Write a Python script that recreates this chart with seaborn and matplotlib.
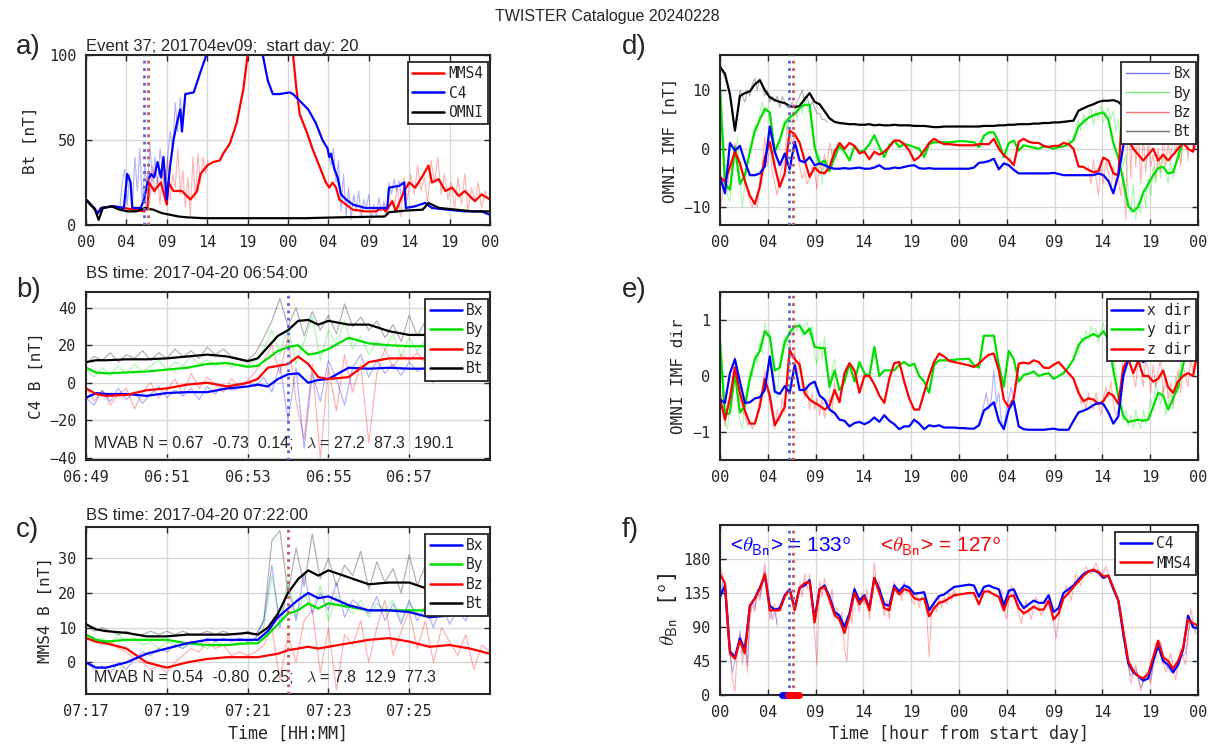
import numpy as np
import matplotlib
matplotlib.use('Agg')
import matplotlib.pyplot as plt
from matplotlib.lines import Line2D
import seaborn as sns

# ---- data ----
HOUR_TICKS = [0, 4.8, 9.6, 14.4, 19.2, 24.0, 28.8, 33.6, 38.4, 43.2, 48.0]
HOUR_LABELS = ['00', '04', '09', '14', '19', '00', '04', '09', '14', '19', '00']
MIN_TICKS = [0, 2, 4, 6, 8]
C4_MIN_LABELS = ['06:49', '06:51', '06:53', '06:55', '06:57']
MMS_MIN_LABELS = ['07:17', '07:19', '07:21', '07:23', '07:25']

BS_C4_H = 6.9      # 06:54 on start day
BS_MMS_H = 7.37    # 07:22 on start day
BS_MIN = 5.0       # minutes after window start
C4_WIN = [6.2, 7.5]
MMS_WIN = [6.8, 7.9]

# panel a: Bt, hours from start day
a_c4_t = [0, 0.6, 1.4, 1.8, 3.3, 4.5, 4.9, 5.3, 5.5, 6.5, 6.9, 7.3, 7.7, 8.1, 8.5,
          8.9, 9.2, 9.6, 10.0, 10.4, 10.8, 11.2, 11.4, 11.8, 12.8, 13.6, 14.3, 15.5,
          20.0, 21.0, 21.6, 22.2, 23.0, 24.2, 24.6, 25.4, 26.4, 27.3, 28.1, 28.7,
          28.9, 29.1, 29.5, 29.9, 30.3, 30.9, 31.7, 33.2, 35.2, 35.8, 36.0, 37.2,
          37.8, 38.0, 39.1, 40.3, 41.1, 43.0, 45.0, 47.0, 48.0]
a_c4 = [15, 12, 7, 10, 11, 10, 30, 25, 10, 10, 15, 25, 30, 28, 37,
        28, 40, 15, 35, 50, 60, 68, 55, 77, 78, 90, 100, 150,
        150, 100, 85, 77, 77, 78, 77, 73, 68, 60, 50, 45,
        40, 42, 33, 28, 18, 15, 12, 10, 10, 10, 22, 23,
        25, 10, 11, 13, 10, 9, 8, 8, 6]
a_mms_t = [0, 1.4, 1.8, 3.3, 5.7, 6.9, 7.3, 7.5, 8.1, 8.9, 9.6, 9.8, 10.4, 11.4, 12.4,
           13.2, 13.6, 14.4, 15.1, 15.9, 16.3, 17.1, 17.9, 18.7, 19.2, 20.0, 24.0,
           24.6, 25.0, 25.4, 26.2, 26.9, 27.7, 28.5, 28.9, 29.3, 29.7, 30.1, 30.9,
           31.7, 33.2, 34.4, 35.2, 35.6, 36.4, 36.8, 37.8, 38.4, 39.1, 39.9, 40.7,
           41.1, 41.9, 42.7, 43.5, 44.3, 45.0, 46.2, 47.0, 48.0]
a_mms = [15, 7, 10, 11, 9, 8, 10, 25, 20, 25, 12, 25, 20, 20, 15,
         20, 30, 35, 37, 38, 42, 48, 60, 80, 100, 150, 150,
         100, 80, 65, 55, 45, 35, 25, 22, 25, 22, 15, 12,
         9, 8, 8, 10, 8, 14, 8, 20, 25, 22, 28, 35,
         25, 27, 20, 22, 17, 20, 14, 18, 15]
a_omni_t = [0, 0.5, 1.0, 1.5, 2.0, 3.0, 4.0, 5.0, 6.0, 7.0, 8.0, 9.0, 10.0, 11.0, 12.0,
            14.0, 20.0, 26.0, 30.0, 35.5, 36.0, 38.0, 40.0, 40.7, 41.5, 42.0, 44.0,
            46.0, 48.0]
a_omni = [15, 12, 10, 3, 10, 11, 9, 8, 8, 10, 9, 7, 6, 5, 4.5,
          4, 4, 4, 4.5, 5, 7.5, 8.5, 9, 13, 11, 10, 9, 8, 8]
# raw (unsmoothed) bursts, regular sampling from a start hour
a_c4_raw1 = [9, 25, 33, 12, 30, 8, 40, 20, 45, 12, 35, 20, 48, 25, 40, 22, 45, 30,
             15, 40, 55, 45, 72, 55, 75, 60, 78]                        # from 4.0 h, 0.3 h
a_c4_raw2 = [42, 35, 45, 25, 38, 8, 30, 5, 22, 3, 18, 8, 20, 4, 15, 10, 18, 3, 12,
             5, 16, 8, 14, 6, 25, 18, 27, 20, 26, 15, 22, 12]            # from 28.8 h, 0.3 h
a_mms_raw1 = [10, 30, 15, 35, 18, 28, 12, 33, 20, 40, 15, 30, 22, 45, 18, 32, 10,
              28, 5, 40, 15, 42, 25, 40, 30, 38]                          # from 7.0 h, 0.3 h
a_mms_raw2 = [8, 12, 6, 15, 10, 22, 5, 28, 15, 30, 18, 35, 20, 28, 12, 38, 25, 40,
              18, 30, 15, 25, 10, 28, 12, 30, 8, 22, 14, 25, 10, 20, 15]  # from 35.0 h, 0.4 h

# panels b, c: minutes after window start
bc_t = [0, 0.25, 0.5, 1, 1.5, 2, 2.5, 3, 3.5, 4, 4.25, 4.5, 4.75, 5, 5.25, 5.5, 5.75,
        6, 6.5, 7, 7.5, 8, 8.5, 9, 9.5, 10]
b_bt = [11, 12, 12, 12.5, 12.5, 13, 14, 15, 14, 11.5, 13, 19, 25, 28, 33, 33.5, 31,
        33, 31, 31, 27.5, 25.5, 25.5, 25.5, 25.5, 32]
b_by = [8, 5.5, 5, 5.5, 6, 7, 8, 10, 10.5, 8.5, 9, 13, 17, 19, 20, 15, 16,
        18, 24, 21, 20, 19.5, 19.5, 19.5, 20, 27]
b_bz = [-3, -6, -7, -6.5, -4, -3, -1, 0, -2, 0, 2, 8, 9, 10, 14, 10, 3,
        2, 3, 11, 13, 13, 13, 13, 13, 16]
b_bx = [-8, -5.5, -6, -6, -7, -5.5, -5, -5, -3, -2, -1, -2, 2, 4.5, 5, 0, 1.5,
        2, 8, 7.5, 8, 7.5, 7.5, 7.5, 8, 10]
c_bt = [11, 9.5, 9, 8.5, 7.5, 7.5, 8, 8, 8, 8.5, 8, 10, 14, 20, 24, 26.5, 25,
        26.5, 24.5, 22.5, 23, 23, 21, 21, 22, 24]
c_bx = [0, -1.5, -1.5, 0, 2.5, 4, 5.5, 6.5, 6.5, 6.5, 6.5, 9, 13, 15.5, 18, 20, 18.5,
        19, 16.5, 15, 15, 14.5, 13, 13.5, 15.5, 15]
c_by = [8, 6.5, 6, 6.5, 6.5, 6.5, 5.5, 5, 5, 5.5, 5.5, 8, 11, 14, 15, 17, 15.5,
        17, 16, 15, 15, 15, 15, 15, 16, 19]
c_bz = [7, 6, 5.5, 4, 0, -1.5, 0, 1, 1.5, 1.5, 1.5, 2, 2.5, 3.5, 4, 4.5, 4,
        4.5, 5.5, 6.5, 7, 6, 4.5, 5, 4, 2.5]
# raw, every 0.2 min
b_bt_raw = [10, 14, 12, 16, 11, 15, 13, 17, 12, 16, 13, 18, 14, 17, 13, 19, 15, 18, 14, 13,
            12, 16, 24, 33, 45, 30, 40, 25, 38, 28, 36, 26, 42, 30, 35, 28, 33, 24, 31, 22,
            36, 25, 33, 22, 30, 24, 35, 23, 29, 26, 36]
b_by_raw = [7, 3, 8, 4, 9, 5, 10, 6, 9, 12, 7, 11, 9, 14, 10, 12, 9, 11, 8, 10,
            9, 12, 18, 28, 15, 30, 10, 22, 35, 12, 28, 20, 33, 18, 25, 15, 22, 18, 26, 14,
            24, 17, 23, 15, 26, 18, 22, 16, 24, 19, 27]
b_bz_raw = [-2, -10, -4, -12, -6, -3, -14, -5, 0, -8, -4, 2, -6, 5, -3, 3, -1, -5, 2, -2,
            1, 6, 12, 20, 5, 25, -10, -30, 10, -40, 8, -15, 15, -5, 10, -32, 5, 18, 8, 15,
            12, 16, 10, 14, 12, 15, 11, 14, 13, 12, 16]
b_bx_raw = [-8, -12, -4, -10, -3, -9, -5, -11, -6, -2, -8, -4, -7, -3, -9, -2, -6, -1, -4, -3,
            0, -2, 3, -5, 10, -20, 8, -35, 5, -10, 12, 2, -12, 8, 15, 3, 12, 5, 10, 4,
            11, 6, 9, 0, 10, 5, 8, 4, 9, 6, 10]
c_bt_raw = [11, 9, 10, 9, 8, 9, 8, 8, 9, 8, 9, 8, 9, 8, 8, 9, 8, 9, 8, 8,
            9, 8, 12, 35, 38, 20, 33, 22, 37, 24, 30, 22, 28, 25, 32, 21, 29, 23, 27, 20,
            31, 22, 28, 19, 26, 22, 29, 20, 25, 23, 25]
c_bx_raw = [0, -2, -1, -3, 0, -2, 1, 3, 2, 4, 3, 5, 4, 6, 5, 7, 6, 7, 6, 7,
            6, 7, 12, 28, 10, 22, 12, 26, 14, 20, 15, 23, 13, 18, 16, 14, 19, 12, 17, 11,
            18, 12, 16, 10, 17, 11, 15, 12, 18, 13, 16]
c_by_raw = [8, 6, 7, 5, 8, 6, 7, 5, 6, 4, 6, 5, 4, 6, 5, 4, 6, 5, 5, 6,
            5, 7, 10, 25, 12, 24, 13, 20, 15, 22, 12, 19, 16, 14, 18, 13, 17, 15, 18, 12,
            17, 14, 16, 13, 18, 14, 17, 15, 19, 16, 19]
c_bz_raw = [7, 6, 5, 6, 4, 3, 1, 0, -2, -1, -3, 0, 2, 4, 3, 6, 4, 5, 2, 3,
            2, 3, 5, 10, -5, 8, 0, 12, 15, -3, 10, -8, 8, 5, 12, 0, 10, 18, 2, 9,
            15, 4, 12, 0, 10, 6, 2, 8, -2, 5, 3]

# panels d, e, f: every 0.5 h from 0 to 48 h (rows of 5 h)
d_bt = [14, 12.8, 9.3, 3.1, 9, 9.5, 9.8, 11, 11.7, 10,
        8.8, 8.3, 8, 7.8, 7.3, 7.1, 7.3, 8.5, 9.5, 8,
        7.6, 6.4, 5.2, 4.6, 4.4, 4.3, 4.2, 4.2, 4.1, 4.1,
        4.2, 4.0, 4.1, 4.0, 4.0, 4.1, 4.0, 4.0, 4.0, 3.9,
        3.9, 3.9, 3.8, 3.7, 3.7, 3.8, 3.8, 3.8, 3.8, 3.8,
        3.8, 3.8, 3.8, 3.9, 3.9, 3.9, 4.0, 4.0, 4.1, 4.1,
        4.2, 4.2, 4.2, 4.3, 4.3, 4.4, 4.4, 4.5, 4.5, 4.6,
        4.7, 4.8, 6.5, 6.9, 7.3, 7.6, 8.0, 8.2, 8.2, 8.3,
        8.0, 7.2, 13.5, 12, 11, 10, 9.5, 9, 9, 8.5,
        8.5, 8.2, 8, 8, 7.8, 7.8,
        7.5]
d_bx = [-4.8, -7.6, 1.0, -0.3, 0.5, -2.2, -4.5, -4.5, -4.2, -3.0,
        3.8, -0.5, -2.8, -0.8, -3.5, 1.2, -2.0, -2.3, -1.4, -2.8,
        -2.5, -2.8, -3.2, -3.4, -3.4, -3.3, -3.4, -3.3, -3.2, -3.4,
        -3.4, -3.2, -2.8, -3.4, -3.4, -3.2, -3.3, -3.1, -2.9, -2.8,
        -3.3, -3.4, -3.3, -3.4, -3.4, -3.4, -3.4, -3.4, -3.4, -3.4,
        -3.4, -3.2, -2.4, -2.3, -2.1, -1.7, -3.5, -2.5, -2.8, -3.6,
        -4.2, -4.2, -4.2, -4.2, -4.2, -4.2, -4.2, -4.1, -4.3, -4.5,
        -4.5, -4.5, -4.5, -4.5, -4.5, -4.5, -4.2, -4.5, -5.5, -7.6,
        -4.5, 0.5, 3.5, 3, 2.5, 2, 1.5, 1.5, 1, 1.5,
        2, 3, 4, 4.5, 5, 5,
        5]
d_by = [9.9, -5.9, -7.0, 0.3, -6.0, -4.5, -0.5, 3.0, 5.0, 6.8,
        6.2, -0.5, 1.5, 4.3, 5.4, 5.9, 7.0, 7.5, 7.5, 0.3,
        -2.5, -2.0, -3.8, -1.5, 0.5, -0.5, -2.0, 0.5, -0.5, -0.3,
        0.8, 2.3, 0.3, -1.4, 0.6, 1.4, 0.3, 0.8, 0.6, 0.3,
        0.0, -1.4, 0.8, 1.1, 1.1, 1.1, 1.1, 1.2, 1.3, 1.3,
        1.2, 1.1, 0.3, 2.2, 2.8, 2.8, 1.1, -1.4, 1.0, 1.4,
        -0.3, 0.6, 0.4, 0.2, 0.0, 0.4, 0.3, 0.0, 0.3, 0.4,
        0.8, 1.5, 3.8, 4.6, 5.3, 5.7, 6.0, 6.2, 5.0, 1.0,
        -1.5, -5.5, -9.8, -10.7, -9.9, -7.5, -6.0, -4.5, -3.3, -3.1,
        -4.2, -4.0, -1.4, 1.4, 3.8, 5.0,
        4.5]
d_bz = [-4.8, -5.6, -3.1, -0.5, -2.5, -5.5, -8.0, -9.4, -6.5, -1.5,
        1.2, -3.0, -6.5, -4.2, 3.1, 2.5, 1.0, -2.0, -4.8, -3.2,
        -4.0, -4.2, -3.1, -0.6, 1.0, 0.0, 1.0, 0.5, -0.8, -0.5,
        -1.8, -0.5, -1.0, -0.5, 0.3, 1.4, 1.4, 0.8, -0.3, -2.0,
        -1.4, -0.3, 1.0, 1.7, 1.2, 0.8, 0.8, 0.7, 0.6, 0.6,
        0.6, 0.6, 0.8, 0.8, 0.8, 1.7, 0.0, -1.1, -1.8, -2.8,
        1.2, 1.7, 1.2, 1.0, 1.0, 0.5, 0.3, 0.5, 0.5, 1.0,
        0.8, 0.0, -3.0, -3.1, -3.6, -4.0, -3.8, -1.5, -2.0, -4.2,
        -4.5, 9.0, 1.5, 0.0, -1.0, -2.0, -1.0, 0.0, -2.0, -1.0,
        -2.0, -1.0, 0.0, 1.0, 0.0, -0.5,
        3.0]
# raw OMNI bursts, every 0.25 h from a start hour
d_bt_raw = [15, 13, 12, 11, 9, 6, 3, 6, 10, 9, 8, 10, 9, 11, 12, 10, 12, 11, 9, 10,
            8, 9, 8, 9, 7, 9, 8, 7, 7, 8, 7, 8, 9, 10, 8, 9, 7, 8, 7, 6,
            6, 5, 5, 4.5]                                                   # from 0 h
d_by_raw1 = [12, 5, -3, -8, -9, -4, -2, 2, -5, -10, -6, -3, 0, 2, 4, 3, 6, 8, 6, 7,
             5, 3, -3, 1, 0, 4, 5, 3, 6, 4, 7, 5, 8, 6, 9, 7, 6, 3, 1, -4,
             -1, -6, -2, -4, -3, 0, -1, 1]                                  # from 0 h
d_bz_raw1 = [-10, -8, -4, -7, -2, -4, 1, -1, -2, -4, -6, -7, -9, -10, -9, -10, -5, -3, 2, -3,
             1, -4, -6, -8, -5, -3, -2, 4, 3, 1, 2, -1, -3, -5, -4, -6, -5, -3, -4, -7,
             -2, -4, -1, -3, 1, -1, 0, -2]                                  # from 0 h
d_by_raw2 = [1.5, 0, 2, 3.5, 5, 3, 6, 4, 5.5, 7, 4, 6.5, 5, 7.5, 4.5, 6, 7, 5, 6.5, 3,
             5, 0.5, -3, -1, -8, -11, -6, -12, -9, -11, -7, -10, -5, -8, -3, -6, -2, -5, -1, -4,
             -6, -2, -5, -3, 0, -2, 1, 3, 2, 5, 4, 6]                       # from 35 h
d_bz_raw2 = [-3, -6, -2, -5, -8, -3, -6, -2, -4, -7, -3, -6, -5, -8, -4, -12, 8, -5, 6, -3,
             4, -6, 2, -4, 1, -3, -1, -5, 0, -4, 2, -3, 1, -2, 3, -1, 2, -3, 1, 4,
             -2, 5, 0, 6]                                                   # from 37 h
e_x = [-0.42, -0.48, 0.05, 0.3, -0.1, -0.48, -0.47, -0.4, -0.38, -0.25,
       0.35, -0.28, -0.32, -0.18, -0.3, 0.2, -0.25, -0.25, -0.15, -0.1,
       -0.35, -0.42, -0.6, -0.66, -0.78, -0.8, -0.9, -0.84, -0.82, -0.86,
       -0.82, -0.74, -0.82, -0.7, -0.8, -0.86, -0.95, -0.9, -0.9, -0.78,
       -0.85, -0.95, -0.88, -0.9, -0.88, -0.92, -0.92, -0.92, -0.93, -0.93,
       -0.94, -0.94, -0.88, -0.62, -0.55, -0.47, -0.8, -0.95, -0.6, -0.45,
       -0.9, -0.95, -0.96, -0.96, -0.96, -0.96, -0.95, -0.94, -0.96, -0.96,
       -0.96, -0.8, -0.65, -0.62, -0.58, -0.52, -0.48, -0.5, -0.65, -0.85,
       -0.72, 0.0, 0.3, 0.35, 0.3, 0.25, 0.3, 0.35, 0.4, 0.35,
       0.3, 0.4, 0.5, 0.6, 0.65, 0.7,
       0.7]
e_y = [0.6, -0.7, -0.66, 0.05, -0.65, -0.54, -0.05, 0.3, 0.45, 0.8,
       0.7, 0.1, 0.15, 0.6, 0.78, 0.88, 0.9, 0.75, 0.85, 0.52,
       0.5, 0.5, -0.19, 0.1, -0.25, -0.1, 0.22, -0.1, 0.25, 0.05,
       0.0, 0.52, 0.0, 0.1, 0.1, 0.1, 0.2, 0.25, 0.18, 0.22,
       0.0, -0.1, -0.3, 0.2, 0.28, 0.28, 0.28, 0.29, 0.3, 0.3,
       0.31, 0.19, 0.15, 0.72, 0.72, 0.72, 0.2, -0.19, 0.45, 0.3,
       -0.1, 0.02, 0.04, 0.08, 0.0, 0.03, 0.05, -0.05, 0.0, 0.05,
       0.16, 0.3, 0.55, 0.66, 0.7, 0.75, 0.7, 0.8, 0.65, 0.1,
       -0.36, -0.72, -0.82, -0.8, -0.78, -0.8, -0.78, -0.55, -0.3, -0.35,
       -0.6, -0.4, -0.2, 0.2, 0.5, 0.58,
       0.6]
e_z = [-0.4, -0.78, -0.4, 0.15, -0.3, -0.62, -0.85, -0.85, -0.54, -0.05,
       -0.35, -0.88, -0.72, -0.55, 0.46, 0.3, 0.2, -0.3, -0.42, -0.48,
       -0.53, -0.6, -0.53, -0.25, -0.47, 0.05, 0.23, 0.1, -0.3, 0.0,
       0.0, -0.15, -0.35, -0.48, -0.05, 0.23, 0.25, -0.1, -0.4, -0.6,
       -0.6, -0.3, 0.0, 0.25, 0.4, 0.35, 0.27, 0.25, 0.23, 0.21,
       0.19, 0.16, 0.22, 0.31, 0.38, 0.4, 0.1, -0.42, -0.56, -0.4,
       0.22, 0.24, 0.22, 0.28, 0.25, 0.15, 0.14, 0.2, 0.25, 0.15,
       0.05, -0.05, -0.3, -0.45, -0.4, -0.42, -0.5, -0.45, -0.3, -0.35,
       -0.5, 0.15, 0.3, 0.05, 0.28, 0.0, 0.0, -0.1, -0.05, 0.1,
       -0.2, -0.3, -0.1, 0.0, 0.05, 0.0,
       0.45]
e_y_raw1 = [0.8, 0.2, -0.8, -0.95, -0.5, -0.3, 0.2, -0.4, -0.8, -0.95, -0.4, -0.2,
            0.1, 0.0, 0.4, 0.2, 0.6, 0.4, 0.95, 0.7, 0.8, 0.3, -0.1, -0.4,
            0.3, 0.5, 0.7, 0.5, 0.9, 0.7, 0.95, 0.8, 0.95, 0.7, 0.9, 0.95,
            0.7, 0.9, 0.4, 0.2, 0.6, 0.3, 0.7, 0.2, -0.3, 0.1, 0.3, -0.1]   # from 0 h
e_z_raw1 = [-0.6, -0.3, -0.9, -0.5, -0.3, 0.0, 0.35, 0.0, -0.4, -0.6, -0.7, -0.9,
            -0.8, -0.95, -0.8, -0.7, -0.4, -0.2, 0.1, -0.2, -0.5, -0.7, -0.95, -0.6,
            -0.8, -0.4, -0.65, 0.1, 0.6, 0.3, 0.45, 0.0, 0.3, -0.1, -0.4, -0.2,
            -0.6, -0.3, -0.6, -0.4, -0.7, -0.4, -0.75, -0.5, -0.4, -0.7, -0.1, -0.4]  # from 0 h
e_x_raw = [-0.9, -0.7, -0.5, -0.3, -0.6, -0.4, 0.1, -0.5, -0.3, -0.8, -0.95, -0.6,
           -0.4, -0.2, -0.5, -0.7, -0.9]                                   # from 26 h
e_y_raw2 = [0.4, 0.7, 0.6, 0.8, 0.65, 0.9, 0.7, 0.85, 0.6, 0.8, 0.95, 0.7,
            0.5, 0.85, 0.3, 0.1, -0.5, -0.2, -0.8, -0.6, -0.9, -0.7, -0.95, -0.6,
            -0.8, -0.95, -0.6, -0.85, -0.7, -0.4, -0.6, -0.1, -0.3, -0.5, -0.2, -0.7,
            -0.5, -0.3, -0.6, 0.0, -0.3, 0.3, 0.1, 0.6, 0.4, 0.7, 0.5, 0.6]   # from 36 h
e_z_raw2 = [-0.2, -0.5, -0.4, -0.6, -0.3, -0.5, -0.6, -0.3, -0.5, -0.7, -0.4, -0.2,
            -0.4, -0.1, -0.5, -0.7, -0.6, -0.2, 0.4, 0.1, 0.5, 0.2, 0.0, -0.2,
            0.4, 0.1, -0.2, 0.3, 0.1, -0.3, 0.2, -0.2, 0.1, 0.3, -0.3, 0.0,
            -0.4, -0.1, -0.5, -0.2, 0.1, -0.3, 0.2, 0.0, -0.2, 0.3, 0.1, 0.4]   # from 36 h
f_c4 = [130, 145, 58, 50, 75, 60, 118, 128, 142, 158,
        118, 113, 115, 132, 140, 115, 142, 145, 152, 100,
        140, 145, 130, 110, 105, 90, 108, 140, 125, 132,
        115, 155, 140, 120, 118, 145, 137, 145, 142, 134,
        135, 136, 112, 122, 131, 133, 138, 143, 144, 145,
        146, 145, 130, 143, 145, 142, 140, 118, 138, 140,
        125, 115, 120, 125, 122, 122, 132, 110, 115, 135,
        140, 145, 153, 160, 164, 165, 162, 155, 158, 140,
        125, 80, 42, 30, 25, 19, 22, 45, 65, 45,
        40, 30, 40, 60, 105, 90,
        88]
f_mms = [160, 148, 55, 48, 72, 55, 118, 128, 140, 160,
         112, 112, 112, 130, 140, 112, 142, 148, 150, 96,
         140, 143, 127, 106, 100, 82, 105, 135, 120, 130,
         112, 155, 135, 115, 112, 142, 133, 140, 138, 128,
         126, 128, 104, 115, 122, 124, 128, 132, 133, 134,
         135, 135, 120, 137, 137, 133, 130, 112, 130, 132,
         115, 108, 112, 117, 113, 113, 125, 100, 108, 128,
         135, 143, 150, 158, 163, 166, 163, 157, 158, 142,
         125, 85, 45, 32, 25, 22, 28, 50, 72, 50,
         45, 35, 45, 62, 100, 95,
         92]
f_c4_raw1 = [120, 150, 130, 80, 55, 30, 45, 60, 85, 55, 70, 40,
             110, 125, 115, 140, 130, 145, 165, 150, 115, 100, 110, 95]      # from 0 h, 0.25 h
f_mms_raw1 = [170, 160, 140, 110, 60, 20, 5, 60, 80, 40, 75, 30,
              100, 120, 110, 135, 125, 150, 175, 140, 100, 115, 120, 90]     # from 0 h, 0.25 h
f_mms_raw2 = [150, 130, 160, 140, 160, 120, 80, 40, 150, 130, 155, 135, 120, 140, 100, 115,
              95, 110, 60, 45, 110, 95, 145, 125, 110, 135, 120, 140, 100, 130, 175, 140,
              150, 125, 105, 125, 100, 130, 150, 135, 140, 125, 150, 135, 145, 125, 120, 135,
              115, 130, 135, 110, 50, 110, 120, 110, 130, 115, 130, 120, 135, 125, 140, 130]  # from 8 h, 0.25 h
f_mms_raw3 = [140, 100, 145, 120, 95, 125, 100, 130, 105, 125, 115, 75, 120, 145, 125, 160,
              145, 170, 160, 175, 155, 170, 150, 135, 110, 60, 15, 40, 5, 30, 15, 70,
              55, 30, 55, 20, 60, 40, 115, 80]                              # from 28.25 h, 0.5 h
f_c4_raw2 = [115, 55, 25, 35, 10, 25, 20, 55, 70, 40, 30, 35, 50, 55, 100, 85]  # from 40.25 h, 0.5 h

BLUE, GREEN, RED, BLACK = '#0000ff', '#00e000', '#ff0000', '#000000'
DOT_BLUE, DOT_RED = '#5566dd', '#c85555'
MONO = 'DejaVu Sans Mono'
SANS = 'Liberation Sans'

sns.set_theme(style='ticks')
plt.rcParams['font.family'] = [MONO, 'DejaVu Sans']
plt.rcParams['mathtext.fontset'] = 'cm'

W, H = 1213, 753
fig = plt.figure(figsize=(W / 100, H / 100), dpi=100)


def box(l, t, r, b):
    return [l / W, 1 - b / H, (r - l) / W, (b - t) / H]


def line(ax, x, y, color, lw=1.6, alpha=1.0, z=2):
    sns.lineplot(x=np.asarray(x, float), y=np.asarray(y, float), ax=ax, color=color,
                 lw=lw, alpha=alpha, sort=False, estimator=None, zorder=z)


def raw(ax, start, step, vals, color):
    t = start + step * np.arange(len(vals))
    line(ax, t, vals, color, lw=0.8, alpha=0.3, z=1.5)


def style(ax, xlim, ylim, xticks, xlabels, yticks):
    ax.set_xlim(*xlim)
    ax.set_ylim(*ylim)
    ax.set_xticks(xticks)
    ax.set_xticklabels(xlabels)
    ax.set_yticks(yticks)
    ax.grid(True, color='#d6d6d6', lw=0.9)
    ax.set_axisbelow(True)
    ax.tick_params(direction='in', top=True, right=True, length=4, width=1,
                   labelsize=11, colors='#262626', pad=7)
    for s in ax.spines.values():
        s.set_linewidth(1.5)
        s.set_color('#262626')
    ax.set_xlabel('')
    ax.set_ylabel('')


def legend(ax, items, hl=2.2, faint=False):
    handles = [Line2D([], [], color=c, lw=1.0 if faint else 1.8,
                      alpha=0.55 if faint else 1.0) for _, c in items]
    leg = ax.legend(handles, [n for n, _ in items], loc='upper right', fontsize=10.5,
                    bbox_to_anchor=(0.995, 0.96), borderaxespad=0,
                    frameon=True, fancybox=False, framealpha=1, edgecolor='#262626',
                    handlelength=hl, handletextpad=0.3, borderpad=0.3,
                    labelspacing=0.3)
    leg.get_frame().set_linewidth(1.3)


ax_a = fig.add_axes(box(86, 55, 490, 225))
ax_b = fig.add_axes(box(86, 292, 490, 460))
ax_c = fig.add_axes(box(86, 527, 490, 694))
ax_d = fig.add_axes(box(720, 55, 1198, 225))
ax_e = fig.add_axes(box(720, 292, 1198, 460))
ax_f = fig.add_axes(box(720, 525, 1198, 695))

hh = 0.5 * np.arange(len(d_bt))
tt = 0.2 * np.arange(len(b_bt_raw))

# ---- a) Bt overview ----
raw(ax_a, 4.0, 0.3, a_c4_raw1, BLUE)
raw(ax_a, 28.8, 0.3, a_c4_raw2, BLUE)
raw(ax_a, 7.0, 0.3, a_mms_raw1, RED)
raw(ax_a, 35.0, 0.4, a_mms_raw2, RED)
line(ax_a, a_mms_t, a_mms, RED)
line(ax_a, a_c4_t, a_c4, BLUE)
line(ax_a, a_omni_t, a_omni, BLACK)
style(ax_a, (0, 48), (0, 100), HOUR_TICKS, HOUR_LABELS, [0, 50, 100])
ax_a.set_ylabel('Bt [nT]', fontsize=11.5, labelpad=8)
legend(ax_a, [('MMS4', RED), ('C4', BLUE), ('OMNI', BLACK)])

# ---- b) C4 at bow shock ----
for r, c in [(b_bt_raw, BLACK), (b_by_raw, GREEN), (b_bz_raw, RED), (b_bx_raw, BLUE)]:
    line(ax_b, tt, r, c, lw=0.9, alpha=0.3)
for v, c in [(b_bx, BLUE), (b_by, GREEN), (b_bz, RED), (b_bt, BLACK)]:
    line(ax_b, bc_t, v, c)
style(ax_b, (0, 10), (-41.2, 48.4), MIN_TICKS, C4_MIN_LABELS, [-40, -20, 0, 20, 40])
ax_b.set_ylabel('C4 B [nT]', fontsize=11.5)
legend(ax_b, [('Bx', BLUE), ('By', GREEN), ('Bz', RED), ('Bt', BLACK)])

# ---- c) MMS4 at bow shock ----
for r, c in [(c_bt_raw, BLACK), (c_by_raw, GREEN), (c_bz_raw, RED), (c_bx_raw, BLUE)]:
    line(ax_c, tt, r, c, lw=0.9, alpha=0.3)
for v, c in [(c_bz, RED), (c_by, GREEN), (c_bx, BLUE), (c_bt, BLACK)]:
    line(ax_c, bc_t, v, c)
style(ax_c, (0, 10), (-9.1, 39), MIN_TICKS, MMS_MIN_LABELS, [0, 10, 20, 30])
ax_c.set_ylabel('MMS4 B [nT]', fontsize=11.5)
ax_c.set_xlabel('Time [HH:MM]', fontsize=12)
legend(ax_c, [('Bx', BLUE), ('By', GREEN), ('Bz', RED), ('Bt', BLACK)])

# ---- d) OMNI IMF ----
raw(ax_d, 0.0, 0.25, d_bt_raw, BLACK)
raw(ax_d, 0.0, 0.25, d_by_raw1, GREEN)
raw(ax_d, 0.0, 0.25, d_bz_raw1, RED)
raw(ax_d, 35.0, 0.25, d_by_raw2, GREEN)
raw(ax_d, 37.0, 0.25, d_bz_raw2, RED)
for v, c in [(d_bt, BLACK), (d_by, GREEN), (d_bz, RED), (d_bx, BLUE)]:
    line(ax_d, hh, v, c)
style(ax_d, (0, 48), (-13, 16), HOUR_TICKS, HOUR_LABELS, [-10, 0, 10])
ax_d.set_ylabel('OMNI IMF [nT]', fontsize=11.5)
legend(ax_d, [('Bx', BLUE), ('By', GREEN), ('Bz', RED), ('Bt', BLACK)], hl=3.0, faint=True)

# ---- e) OMNI IMF direction ----
raw(ax_e, 0.0, 0.25, e_y_raw1, GREEN)
raw(ax_e, 0.0, 0.25, e_z_raw1, RED)
raw(ax_e, 26.0, 0.25, e_x_raw, BLUE)
raw(ax_e, 36.0, 0.25, e_y_raw2, GREEN)
raw(ax_e, 36.0, 0.25, e_z_raw2, RED)
for v, c in [(e_y, GREEN), (e_z, RED), (e_x, BLUE)]:
    line(ax_e, hh, v, c)
style(ax_e, (0, 48), (-1.5, 1.5), HOUR_TICKS, HOUR_LABELS, [-1, 0, 1])
ax_e.set_ylabel('OMNI IMF dir', fontsize=11.5)
legend(ax_e, [('x dir', BLUE), ('y dir', GREEN), ('z dir', RED)])

# ---- f) theta_Bn ----
raw(ax_f, 0.0, 0.25, f_c4_raw1, BLUE)
raw(ax_f, 40.25, 0.5, f_c4_raw2, BLUE)
raw(ax_f, 0.0, 0.25, f_mms_raw1, RED)
raw(ax_f, 8.0, 0.25, f_mms_raw2, RED)
raw(ax_f, 28.25, 0.5, f_mms_raw3, RED)
line(ax_f, hh, f_c4, BLUE)
line(ax_f, hh, f_mms, RED)
style(ax_f, (0, 48), (0, 225), HOUR_TICKS, HOUR_LABELS, [0, 45, 90, 135, 180])
ax_f.set_ylabel(r'$\theta_{\mathsf{Bn}}$ [$^{\mathsf{o}}$]', fontsize=15, labelpad=2)
ax_f.set_xlabel('Time [hour from start day]', fontsize=12)
legend(ax_f, [('C4', BLUE), ('MMS4', RED)])
ax_f.plot(C4_WIN, [0, 0], color=BLUE, lw=5, clip_on=False, zorder=5, solid_capstyle='round')
ax_f.plot(MMS_WIN, [0, 0], color=RED, lw=5, clip_on=False, zorder=6, solid_capstyle='round')
ax_f.text(0.02, 0.87, r'<$\theta_{\mathsf{Bn}}$> = 133$^{\mathsf{o}}$', color=BLUE,
          family=SANS, fontsize=15, va='center', transform=ax_f.transAxes)
ax_f.text(0.335, 0.87, r'<$\theta_{\mathsf{Bn}}$> = 127$^{\mathsf{o}}$', color=RED,
          family=SANS, fontsize=15, va='center', transform=ax_f.transAxes)

# bow-shock crossing markers
for ax in (ax_a, ax_d, ax_e, ax_f):
    ax.axvline(BS_C4_H, color=DOT_BLUE, ls=':', lw=2, zorder=4)
    ax.axvline(BS_MMS_H, color=DOT_RED, ls=':', lw=2, zorder=4)
ax_b.axvline(BS_MIN, color=DOT_BLUE, ls=':', lw=2, zorder=4)
ax_c.axvline(BS_MIN, color=DOT_RED, ls=':', lw=2, zorder=4)

# MVAB notes
for ax, n_txt, l_txt in [(ax_b, 'MVAB N = 0.67  -0.73  0.14;', r'$\lambda$ = 27.2  87.3  190.1'),
                         (ax_c, 'MVAB N = 0.54  -0.80  0.25;', r'$\lambda$ = 7.8  12.9  77.3')]:
    ax.text(0.02, 0.1, n_txt, family=SANS, fontsize=11.5, va='center', transform=ax.transAxes)
    ax.text(0.545, 0.1, l_txt, family=SANS, fontsize=11.5, va='center', transform=ax.transAxes)

# titles and panel letters
fig.text(607 / W, 1 - 17 / H, 'TWISTER Catalogue 20240228', family=SANS, fontsize=11.5,
         ha='center', va='center')
fig.text(86 / W, 1 - 46 / H, 'Event 37; 201704ev09;  start day: 20', family=SANS,
         fontsize=12, va='center')
fig.text(86 / W, 1 - 273 / H, 'BS time: 2017-04-20 06:54:00', family=SANS,
         fontsize=12, va='center')
fig.text(86 / W, 1 - 515 / H, 'BS time: 2017-04-20 07:22:00', family=SANS,
         fontsize=12, va='center')
for lab, x, y in [('a)', 16, 47), ('b)', 16, 290), ('c)', 16, 530),
                  ('d)', 622, 47), ('e)', 622, 290), ('f)', 622, 530)]:
    fig.text(x / W, 1 - y / H, lab, family=SANS, fontsize=20, va='center')

fig.savefig('out.png', dpi=100)
